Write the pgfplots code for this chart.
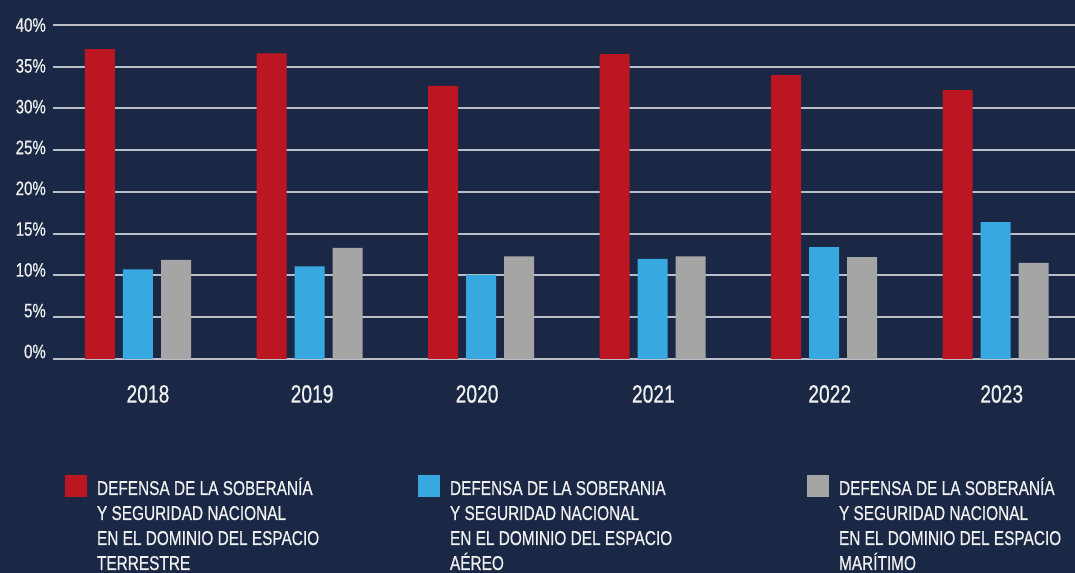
\documentclass[border=0pt]{standalone}
\usepackage{pgfplots}
\pgfplotsset{compat=1.18}
\usepackage{fontspec}
\setmainfont{Liberation Sans}[FakeStretch=0.77,FakeBold=0.6]
\definecolor{bg}{RGB}{26,40,69}
\definecolor{cred}{RGB}{187,22,34}
\definecolor{cblue}{RGB}{55,168,224}
\definecolor{cgray}{RGB}{165,165,165}
\definecolor{cgrid}{RGB}{185,190,200}
\definecolor{ctext}{RGB}{240,240,240}
\newcommand{\legtext}[2]{\hspace*{10bp}\parbox[t]{#1}{\raggedright\fontsize{20bp}{25bp}\selectfont #2}}
\begin{document}
\begin{tikzpicture}
\useasboundingbox (0,0) rectangle (1075bp,573bp);
\fill[bg] (0,0) rectangle (1075bp,573bp);
\clip (0,0) rectangle (1075bp,573bp);
\begin{axis}[
 at={(53bp,214bp)}, anchor=south west,
 width=1022bp, height=334bp, scale only axis,
 xmin=-0.4956, xmax=5.4636, ymin=0, ymax=40,
 ybar=8bp, bar width=30bp,
 axis line style={draw=none},
 major tick length=0pt,
 tick style={draw=none},
 xtick={0.058,1.015,1.977,3.005,4.033,5.036},
 xticklabels={2018,2019,2020,2021,2022,2023},
 xticklabel style={anchor=center, inner sep=0pt, yshift=-35bp, font=\fontsize{25bp}{26bp}\selectfont, text=ctext},
 ytick={0.9,5.79,10.67,15.56,20.44,25.33,30.22,35.1,40},
 yticklabels={0\%,5\%,10\%,15\%,20\%,25\%,30\%,35\%,40\%},
 yticklabel style={anchor=east, inner sep=0pt, xshift=-7bp, font=\fontsize{19.5bp}{20bp}\selectfont, text=ctext},
 extra y ticks={0,5,10,15,20,25,30,35,40},
 extra y tick labels={},
 extra y tick style={grid=major},
 major grid style={draw=cgrid, line width=2bp},
 legend columns=3,
 legend image code/.code={\fill[#1] (0bp,-2bp) rectangle (22bp,20bp);},
 legend style={at={(0.01174,-0.3473)}, anchor=north west, draw=none, fill=none,
   inner sep=0pt, outer sep=0pt, column sep=0pt, row sep=0pt,
   /tikz/every odd column/.style={column sep=0pt},
   /tikz/every even column/.style={column sep=0pt},
   cells={anchor=base west},
   nodes={inner sep=0pt, outer sep=0pt, text=ctext}},
]
\addplot[fill=cred, draw=none] coordinates {(0,37.1) (1,36.6) (2,32.7) (3,36.5) (4,34.0) (5,32.2)};
\addlegendentry{\legtext{321bp}{DEFENSA DE LA SOBERANÍA\\Y SEGURIDAD NACIONAL\\EN EL DOMINIO DEL ESPACIO\\TERRESTRE}}
\addplot[fill=cblue, draw=none] coordinates {(0,10.74) (1,11.1) (2,10.06) (3,12.0) (4,13.4) (5,16.4)};
\addlegendentry{\legtext{357bp}{DEFENSA DE LA SOBERANIA\\Y SEGURIDAD NACIONAL\\EN EL DOMINIO DEL ESPACIO\\AÉREO}}
\addplot[fill=cgray, draw=none] coordinates {(0,11.86) (1,13.3) (2,12.3) (3,12.3) (4,12.2) (5,11.5)};
\addlegendentry{\legtext{240bp}{DEFENSA DE LA SOBERANÍA\\Y SEGURIDAD NACIONAL\\EN EL DOMINIO DEL ESPACIO\\MARÍTIMO}}
\end{axis}
\end{tikzpicture}
\end{document}
